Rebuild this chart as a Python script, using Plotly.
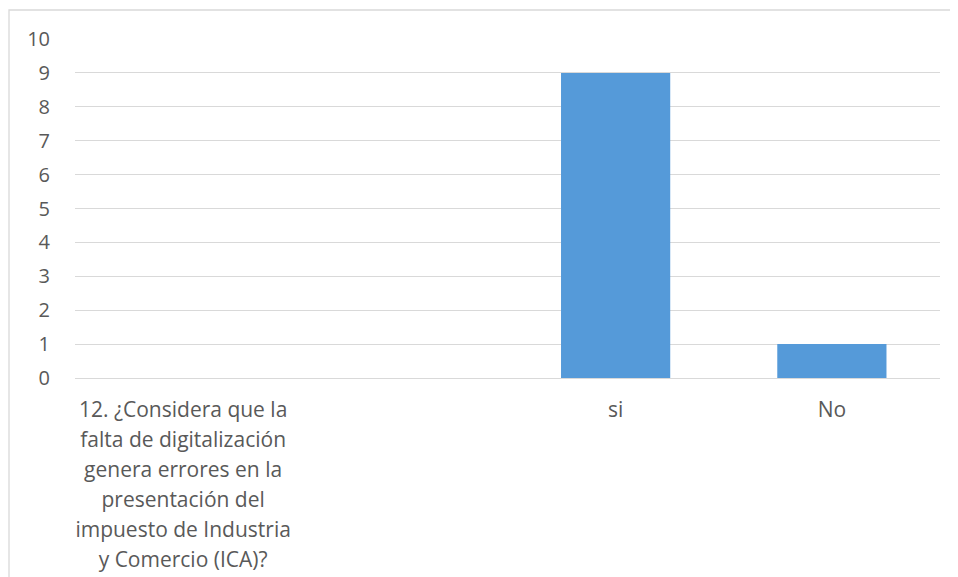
import plotly.graph_objects as go

categories = [
    "12. ¿Considera que la\nfalta de digitalización\ngenera errores en la\npresentación del\nimpuesto de Industria\ny Comercio (ICA)?",
    " ",
    "si",
    "No",
]
values = [None, None, 9, 1]
y_ticks = list(range(0, 11))

# page body has an 8px margin in the browser; compensate
OFF = 8
W, H = 958 - OFF, 577 - OFF
L, R, T, B = 75 - OFF, 18, 39 - OFF, 199
pw = W - L - R
ph = H - T - B

LABEL_SIZE = 21
LINE_EM = 23.1  # gives ~30px line spacing (1.3 * 23.1)


def fmt(label):
    return "<br>".join(
        f'<span style="font-size:{LABEL_SIZE}px">{ln}</span>' for ln in label.split("\n")
    )


ticktext = [fmt(c) for c in categories]

fig = go.Figure()
fig.add_trace(go.Bar(
    x=categories,
    y=values,
    width=0.505,
    marker=dict(color="#559ad9", line=dict(width=0)),
))

# outer chart border (only top and left visible in the crop)
bx0 = (9 - OFF - L) / pw
by1 = (H - B - (10 - OFF)) / ph
fig.add_shape(type="rect", xref="paper", yref="paper",
              x0=bx0, x1=1.2, y0=-1.0, y1=by1,
              line=dict(color="#d9d9d9", width=1.3), layer="below")

fig.update_layout(
    width=W, height=H,
    margin=dict(l=L, r=R, t=T, b=B, autoexpand=False),
    paper_bgcolor="white", plot_bgcolor="white",
    showlegend=False,
    font=dict(family="Open Sans, Calibri, sans-serif", size=20, color="#595959"),
)
fig.update_xaxes(
    type="category", automargin=False,
    categoryorder="array", categoryarray=categories,
    tickvals=categories, ticktext=ticktext,
    showgrid=False, zeroline=False,
    showline=True, linecolor="#d9d9d9", linewidth=1.3,
    ticks="", ticklabelstandoff=10,
    tickfont=dict(size=LINE_EM, color="#595959"),
)
fig.update_yaxes(
    range=[0, 10], tickvals=y_ticks, automargin=False,
    showgrid=True, gridcolor="#d9d9d9", gridwidth=1.3,
    zeroline=False, showline=False,
    ticks="", ticklabelstandoff=24,
    tickfont=dict(size=20, color="#595959"),
)

fig.write_html("out.html")
